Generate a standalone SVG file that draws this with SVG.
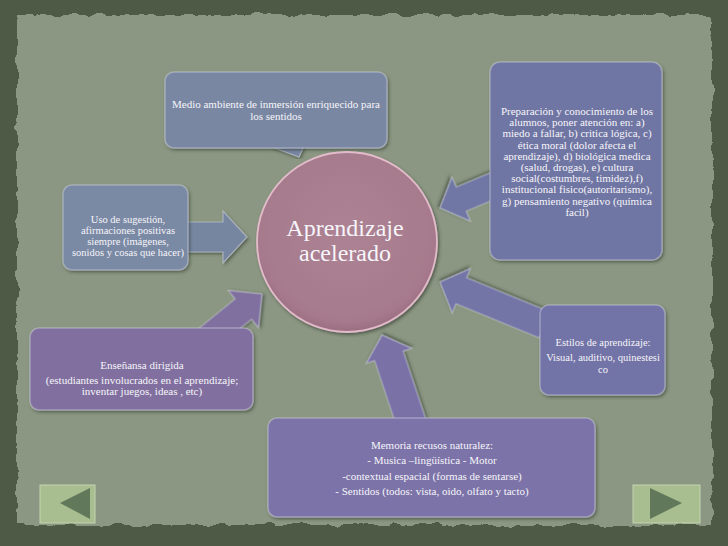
<svg xmlns="http://www.w3.org/2000/svg" width="728" height="546" viewBox="0 0 728 546">
  <defs>
    <style>
      .t { font-family: "Liberation Serif", "DejaVu Serif", serif; fill: #f6f5fa; text-anchor: middle; }
      .s10 { font-size: 11px; }
      .s105 { font-size: 10.5px; }
      .s11 { font-size: 11px; }
      .big { font-size: 24px; }
      .box { stroke: #d9dceb; stroke-opacity: 0.4; stroke-width: 1.5; filter: url(#shadow); }
      .arr { stroke: #dfe2ee; stroke-opacity: 0.45; stroke-width: 1.2; stroke-linejoin: miter; filter: url(#shadow); }
      .btn { fill: #a8bd90; stroke: #c4d6ae; stroke-width: 1; }
      .tri { fill: #62785a; }
    </style>
    <filter id="shadow" x="-10%" y="-10%" width="125%" height="125%">
      <feDropShadow dx="1.5" dy="2" stdDeviation="1.5" flood-color="#2c3326" flood-opacity="0.55"/>
    </filter>
    <filter id="rough" x="-5%" y="-5%" width="110%" height="110%">
      <feTurbulence type="fractalNoise" baseFrequency="0.06" numOctaves="3" seed="4" result="n"/>
      <feDisplacementMap in="SourceGraphic" in2="n" scale="9" xChannelSelector="R" yChannelSelector="G"/>
    </filter>
    <radialGradient id="circ" cx="50%" cy="45%" r="55%">
      <stop offset="0" stop-color="#ad8394"/>
      <stop offset="0.9" stop-color="#a67a8c"/>
      <stop offset="1" stop-color="#9a6e80"/>
    </radialGradient>
  </defs>

  <!-- background -->
  <rect x="0" y="0" width="728" height="546" fill="#4e5a45"/>
  <rect x="17" y="15" width="695" height="510" fill="#8b9782" filter="url(#rough)"/>

  <g id="connectors">
    <!-- from left box -->
    <polygon class="arr" fill="#7686a1" points="-72,-15 -24,-15 -24,-26 0,0 -24,26 -24,15 -72,15" transform="translate(247,237)"/>
    <!-- from right-top box -->
    <polygon class="arr" fill="#6f77a4" points="-70,-13 -23,-13 -23,-24 0,0 -23,24 -23,13 -70,13" transform="translate(440,208) rotate(157.3)"/>
    <!-- from right-middle box -->
    <polygon class="arr" fill="#7274a6" points="-113,-14 -23,-14 -23,-24 0,0 -23,24 -23,14 -113,14" transform="translate(440,282) rotate(202.3)"/>
    <!-- from bottom box -->
    <polygon class="arr" fill="#7a72a7" points="-95,-15 -22,-15 -22,-24 0,0 -22,24 -22,15 -95,15" transform="translate(382,335) rotate(-108.4)"/>
    <!-- from bottom-left box -->
    <polygon class="arr" fill="#7f6f9f" points="-75,-13 -24,-13 -24,-24 0,0 -24,24 -24,13 -75,13" transform="translate(262,294) rotate(-39)"/>
    <!-- callout tail of top box -->
    <polygon class="arr" fill="#7a87a3" points="272,147 299,157 304,146"/>
  </g>

  <g id="node-top">
    <rect class="box" x="165" y="72" width="222" height="76" rx="9" fill="#7a87a3"/>
    <text class="t s11" x="276" y="108">Medio ambiente de inmersión enriquecido para</text>
    <text class="t s11" x="276" y="120">los sentidos</text>
  </g>

  <g id="node-right-top">
    <rect class="box" x="490" y="62" width="172" height="198" rx="10" fill="#6f76a3"/>
    <text class="t s10" x="577" y="115">Preparación y conocimiento de los</text>
    <text class="t s10" x="577" y="126">alumnos, poner atención en: a)</text>
    <text class="t s10" x="577" y="137">miedo a fallar, b) critica lógica, c)</text>
    <text class="t s10" x="577" y="149">ética moral (dolor afecta el</text>
    <text class="t s10" x="577" y="160">aprendizaje), d) biológica medica</text>
    <text class="t s10" x="577" y="171">(salud, drogas), e) cultura</text>
    <text class="t s10" x="577" y="182">social(costumbres, timidez),f)</text>
    <text class="t s10" x="577" y="193">institucional fisico(autoritarismo),</text>
    <text class="t s10" x="577" y="205">g) pensamiento negativo (química</text>
    <text class="t s10" x="577" y="216">facil)</text>
  </g>

  <g id="node-left">
    <rect class="box" x="63" y="185" width="125" height="85" rx="9" fill="#7a89a4"/>
    <text class="t s105" x="128" y="223">Uso de sugestión,</text>
    <text class="t s105" x="128" y="234">afirmaciones positivas</text>
    <text class="t s105" x="128" y="245">siempre (imágenes,</text>
    <text class="t s105" x="128" y="256">sonidos y cosas que hacer)</text>
  </g>

  <g id="node-center">
    <circle cx="347" cy="242" r="90" fill="url(#circ)" stroke="#e2bccb" stroke-width="1.8" filter="url(#shadow)"/>
    <text class="t big" x="345" y="236">Aprendizaje</text>
    <text class="t big" x="345" y="261">acelerado</text>
  </g>

  <g id="node-bottom-left">
    <rect class="box" x="30" y="328" width="223" height="82" rx="9" fill="#81709f"/>
    <text class="t s11" x="142" y="369">Enseñansa dirigida</text>
    <text class="t s11" x="142" y="384">(estudiantes involucrados en el aprendizaje;</text>
    <text class="t s11" x="142" y="395">inventar juegos, ideas , etc)</text>
  </g>

  <g id="node-right-mid">
    <rect class="box" x="540" y="305" width="125" height="90" rx="9" fill="#7273a6"/>
    <text class="t s105" x="603" y="346">Estilos de aprendizaje:</text>
    <text class="t s105" x="603" y="361">Visual, auditivo, quinestesi</text>
    <text class="t s105" x="603" y="373">co</text>
  </g>

  <g id="node-bottom">
    <rect class="box" x="268" y="418" width="327" height="99" rx="9" fill="#7c73a8"/>
    <text class="t s11" x="432" y="449">Memoria recusos naturalez:</text>
    <text class="t s11" x="432" y="464">- Musica –lingüística - Motor</text>
    <text class="t s11" x="432" y="480">-contextual espacial (formas de sentarse)</text>
    <text class="t s11" x="432" y="495">- Sentidos (todos: vista, oido, olfato y tacto)</text>
  </g>

  <g id="nav-prev">
    <rect class="btn" x="40" y="485" width="55" height="38"/>
    <polygon class="tri" points="60,503 90,488 90,519"/>
  </g>
  <g id="nav-next">
    <rect class="btn" x="633" y="485" width="67" height="38"/>
    <polygon class="tri" points="650,488 650,519 682,503"/>
  </g>
</svg>
